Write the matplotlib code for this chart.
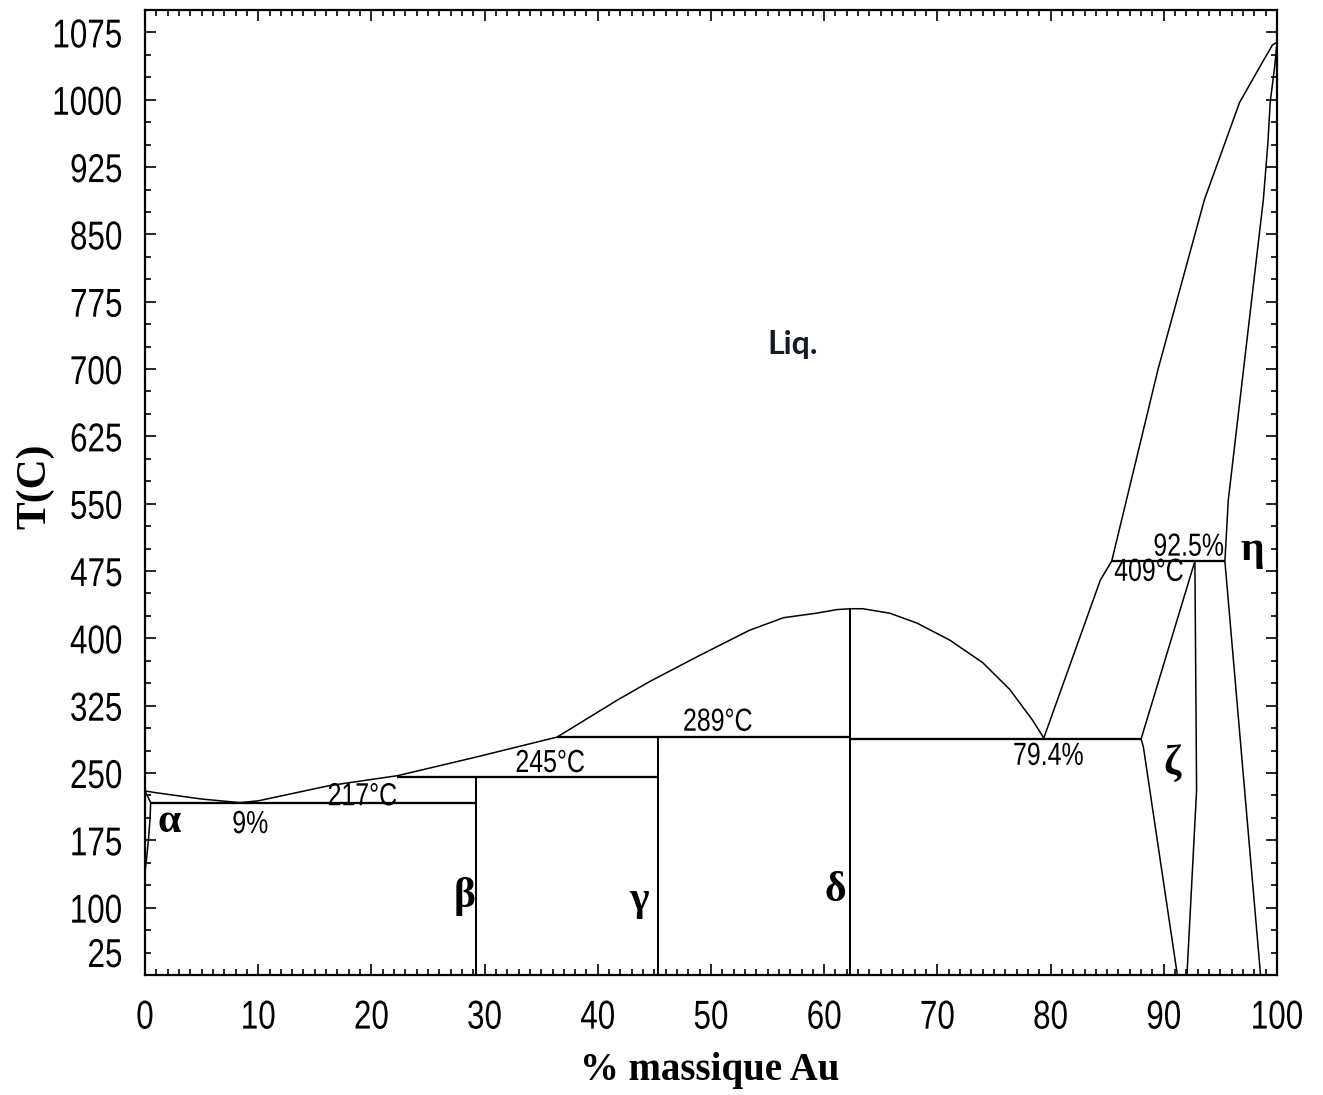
import matplotlib
matplotlib.use("Agg")
import matplotlib.pyplot as plt
from matplotlib import patheffects
from matplotlib.transforms import Affine2D
from matplotlib.ticker import MultipleLocator

# liquidus (Sn side -> eutectic 9% -> delta max -> eutectic 79.4% -> Au)
liq_x = [0, 1.0, 5.0, 8.4, 10.0, 16.3, 22.3, 29.0, 36.4, 41.7, 44.6, 49.0, 53.4, 56.4,
         59.3, 61.1, 62.3, 63.4, 65.8, 68.2, 71.1, 74.0, 76.4, 78.4, 79.4,
         84.4, 85.4, 89.5, 93.6, 96.7, 98.5, 99.6, 100]
liq_T = [230, 228, 221, 217, 219, 236, 247, 267, 290, 331, 352, 381, 409, 423,
         428, 432, 433, 433, 428, 417, 398, 373, 343, 309, 289,
         465, 486, 700, 889, 997, 1037, 1061, 1064]

# alpha solvus near pure Sn
alpha_x = [0, 0.5, 0.45, 0.3, 0.1, 0]
alpha_T = [230, 217, 200, 175, 150, 140]

# zeta / eta boundaries on the Au-rich side
zeta_left_x = [92.75, 88.0, 88.2, 91.2]
zeta_left_T = [486, 288, 279, 25]
zeta_mid_x = [92.75, 92.9, 92.05]
zeta_mid_T = [486, 231, 25]
eta_x = [98.55, 95.4, 95.7, 98.8, 99.2, 99.4, 99.8, 100]
eta_T = [25, 486, 554, 889, 952, 997, 1037, 1064]

# intermetallic compounds (vertical lines): x, top temperature
comp_x = [29.2, 45.3, 62.3]
comp_top = [246, 290, 433]

# isotherms: x start, x end, temperature
iso_x0 = [0.5, 22.3, 36.4, 62.3, 85.4]
iso_x1 = [29.2, 45.3, 62.3, 88.0, 95.4]
iso_T = [217, 246, 290, 288, 486]

# annotations
note_txt = ["217°C", "9%", "245°C", "289°C", "79.4%", "409°C", "92.5%"]
note_x = [19.2, 9.3, 35.8, 50.6, 79.8, 88.7, 92.2]
note_T = [223, 192, 260, 306, 268, 473, 501]

phase_txt = ["α", "β", "γ", "δ", "ζ", "η"]
phase_x = [2.1, 28.2, 43.6, 61.0, 90.7, 97.8]
phase_T = [195, 112, 108, 119, 260, 498]


class Squeeze(patheffects.AbstractPathEffect):
    """squeeze text horizontally, to imitate a narrow font"""

    def __init__(self, sx=0.78, anchor="center"):
        super().__init__()
        self.sx = sx
        self.anchor = anchor

    def draw_path(self, renderer, gc, tpath, affine, rgbFace=None):
        ext = tpath.get_extents(affine)
        if self.anchor == "right":
            x0 = ext.x1
        elif self.anchor == "left":
            x0 = ext.x0
        else:
            x0 = 0.5 * (ext.x0 + ext.x1)
        t = affine + Affine2D().translate(-x0, 0).scale(self.sx, 1).translate(x0, 0)
        renderer.draw_path(gc, tpath, t, rgbFace)


sans = ["Liberation Sans", "DejaVu Sans"]
serif = ["Liberation Serif", "DejaVu Serif"]

fig = plt.figure(figsize=(13.23, 10.95), dpi=100)
ax = fig.add_axes([0.1096, 0.1096, 0.8556, 0.8813])

lw = 1.1
ax.plot(liq_x, liq_T, color="black", lw=lw)
ax.plot(alpha_x, alpha_T, color="black", lw=lw)
ax.plot(zeta_left_x, zeta_left_T, color="black", lw=lw)
ax.plot(zeta_mid_x, zeta_mid_T, color="black", lw=lw)
ax.plot(eta_x, eta_T, color="black", lw=lw)
ax.vlines(comp_x, 25, comp_top, color="black", lw=lw * 1.3)
ax.hlines(iso_T, iso_x0, iso_x1, color="black", lw=lw * 1.5)

for t, x, y in zip(note_txt, note_x, note_T):
    ax.text(x, y, t, ha="center", va="center", fontsize=23, family=sans,
            path_effects=[Squeeze(0.78)])
for t, x, y in zip(phase_txt, phase_x, phase_T):
    ax.text(x, y, t, ha="center", va="center", fontsize=30,
            fontweight="bold", family=serif)
ax.text(57.2, 727, "Liq.", ha="center", va="center", fontsize=23,
        fontweight="bold", family=["Lato", "DejaVu Sans"], color="#151a2a")

ax.set_xlim(0, 100)
ax.set_ylim(25, 1100)
ax.xaxis.set_major_locator(MultipleLocator(10))
ax.xaxis.set_minor_locator(MultipleLocator(1))
ax.yaxis.set_minor_locator(MultipleLocator(25))
ax.set_yticks(list(range(25, 1100, 75)))
ax.tick_params(which="both", direction="in", top=True, right=True, width=1.2)
ax.tick_params(which="major", length=8)
ax.tick_params(which="minor", length=4)
ax.tick_params(axis="y", pad=16)
ax.tick_params(axis="x", pad=17)
for sp in ax.spines.values():
    sp.set_linewidth(1.6)

fig.text(0.5365, 0.0228, "% massique Au", ha="center", va="center",
         fontsize=28, fontweight="bold", family=serif)
fig.text(0.0265, 0.556, "T(C)", ha="center", va="center", rotation=90,
         fontsize=30, fontweight="bold", family=serif)

fig.canvas.draw()
for lab in ax.get_xticklabels():
    lab.set_fontfamily(sans)
    lab.set_fontsize(29)
    lab.set_path_effects([Squeeze(0.78)])
for lab in ax.get_yticklabels():
    lab.set_fontfamily(sans)
    lab.set_fontsize(29)
    lab.set_path_effects([Squeeze(0.78, "right")])
ax.get_yticklabels()[0].set_verticalalignment("bottom")

fig.savefig("out.png", dpi=100)
